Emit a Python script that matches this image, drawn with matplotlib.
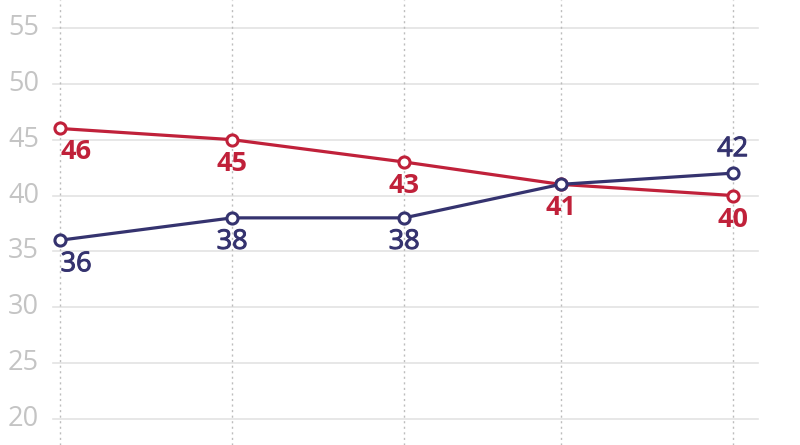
import matplotlib
matplotlib.use("Agg")
import matplotlib.pyplot as plt
import matplotlib.transforms as mtransforms
import matplotlib.patheffects as pe

plt.rcParams['font.family'] = ['Open Sans', 'DejaVu Sans']

# Data (x as month offsets, reflecting uneven spacing of surveys)
x_vals = [0, 11, 22, 32, 43]
red_vals = [46, 45, 43, 41, 40]
blue_vals = [36, 38, 38, 41, 42]
y_ticks = [20, 25, 30, 35, 40, 45, 50, 55]

red_color = '#c0213a'
blue_color = '#35336f'

# label placement per point: (dx px, dy px) or None
red_offsets = [(16, -24), (0, -24), (0, -24), (0, -24), (0, -24)]
blue_offsets = [(16, -24), (0, -24), (0, -24), None, (0, 24)]

fig = plt.figure(figsize=(8, 4.45), dpi=100)
ax = fig.add_axes([0, 0, 1, 1])
ax.set_xlim(-3.84, 47.3)
ax.set_ylim(17.67, 57.5)
ax.axis('off')

# horizontal gridlines
trans = mtransforms.blended_transform_factory(ax.transAxes, ax.transData)
for t in y_ticks:
    ax.axhline(t, xmin=53/800, xmax=758/800, color='#e3e3e3', lw=1.2, zorder=1)
    ax.text(39/800, t, str(t), transform=trans,
            ha='right', va='center', fontsize=19.5, color='#c4c4c4')

# vertical dotted lines
for xv in x_vals:
    ax.axvline(xv, color='#bdbdbd', lw=1.0, ls=(0, (1.5, 2.5)), zorder=1)

ax.plot(x_vals, red_vals, color=red_color, lw=2.3, marker='o', ms=8,
        mfc='white', mec=red_color, mew=2.2, zorder=3)
ax.plot(x_vals, blue_vals, color=blue_color, lw=2.3, marker='o', ms=8,
        mfc='white', mec=blue_color, mew=2.2, zorder=4)

for xv, yv, off in zip(x_vals, red_vals, red_offsets):
    if off is None:
        continue
    ax.annotate(str(yv), (xv, yv), xytext=off, textcoords='offset pixels',
                ha='center', va='center', fontsize=19.5, fontweight='bold', color=red_color, zorder=5)
for xv, yv, off in zip(x_vals, blue_vals, blue_offsets):
    if off is None:
        continue
    ax.annotate(str(yv), (xv, yv), xytext=off, textcoords='offset pixels',
                ha='center', va='center', fontsize=19.5, color=blue_color, zorder=5,
                path_effects=[pe.withStroke(linewidth=0.7, foreground=blue_color)])

fig.savefig('out.png', dpi=100)
